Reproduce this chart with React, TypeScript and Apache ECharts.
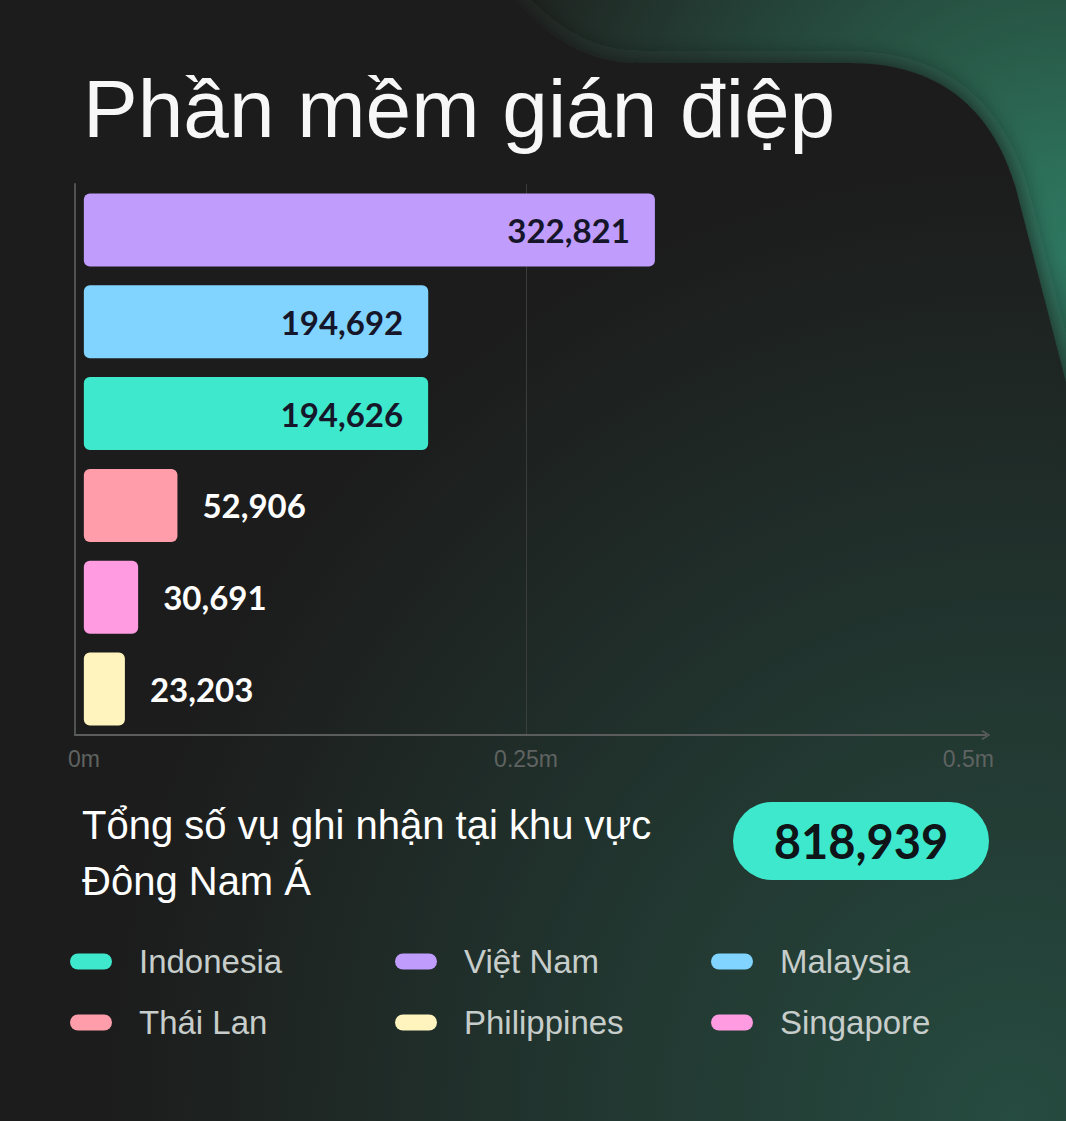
import React, { useEffect, useRef } from 'react';
import * as echarts from 'echarts';

const countries = ['Việt Nam', 'Malaysia', 'Indonesia', 'Thái Lan', 'Singapore', 'Philippines'];
const values = [322821, 194692, 194626, 52906, 30691, 23203];
const barColors = ['#c09cfd', '#80d4ff', '#3ee8cc', '#ff9eaa', '#ff9be0', '#fff3be'];
const legendRow1 = ['Indonesia', 'Việt Nam', 'Malaysia'];
const legendRow2 = ['Thái Lan', 'Philippines', 'Singapore'];
const xTickValues = [0, 250000, 500000];
const xMin = -5000;
const xMax = 510000;
const titleText = 'Phần mềm gián điệp';
const subtitleLines = ['Tổng số vụ ghi nhận tại khu vực', 'Đông Nam Á'];

const W = 1066;
const H = 1121;
const fmt = (v: number) => v.toLocaleString('en-US');
const panelPath =
  'M-80,-120 L380,-120 C470,-120 500,63 640,63 L850,63 C950,63 995,120 1015,185 L1125,610 L1125,1240 L-80,1240 Z';
const pillIcon = 'path://M8,0 L34,0 A8,8 0 0 1 34,16 L8,16 A8,8 0 0 1 8,0 Z';
const chevron = 'path://M0,10 L6,0 L12,10 L10.4,11 L6,3.2 L1.6,11 Z';

let registered = false;

export default function App() {
  const ref = useRef<HTMLDivElement>(null);
  useEffect(() => {
    if (!ref.current) return;
    if (!registered) {
      echarts.graphic.registerShape('panel', echarts.graphic.extendPath(panelPath, {}));
      registered = true;
    }
    const chart = echarts.init(ref.current, null, { renderer: 'svg' });
    const total = values.reduce((a, b) => a + b, 0);

    const legendBase = {
      orient: 'horizontal',
      itemWidth: 42,
      itemHeight: 16,
      icon: pillIcon,
      padding: 0,
      itemGap: 0,
      selectedMode: false,
      textStyle: {
        color: '#c6cdca',
        fontSize: 33,
        fontFamily: 'Liberation Sans, Arial, sans-serif',
        padding: [0, 0, 0, 22],
      },
    };
    const colLeft = [70, 395, 711];

    const series = countries.map((name, i) => {
      const inside = values[i] > 100000;
      return {
        type: 'bar',
        name,
        stack: 'total',
        barWidth: 73,
        data: countries.map((_, j) => (j === i ? values[i] : '-')),
        itemStyle: { color: barColors[i], borderRadius: 6 },
        label: {
          show: true,
          position: inside ? 'insideRight' : 'right',
          distance: 25,
          color: inside ? '#16162a' : '#ffffff',
          fontFamily: 'Lato, sans-serif',
          fontWeight: 'bold',
          fontSize: 33,
          formatter: (p: any) => fmt(p.value),
        },
      };
    });

    const option: any = {
      animation: false,
      backgroundColor: '#1e1f1e',
      grid: { left: 75, right: W - 986, top: 184, height: 551, outerBoundsMode: 'none', containLabel: false },
      xAxis: {
        type: 'value',
        min: xMin,
        max: xMax,
        axisLine: {
          show: true,
          onZero: false,
          lineStyle: { color: '#5a5d5b', width: 2 },
          symbol: ['none', chevron],
          symbolSize: [14, 9],
        },
        axisTick: { show: false, customValues: xTickValues },
        axisLabel: {
          customValues: xTickValues,
          color: '#5f6361',
          fontSize: 23,
          fontFamily: 'Liberation Sans, Arial, sans-serif',
          margin: 12,
          formatter: (v: number) => v / 1000000 + 'm',
        },
        splitLine: { show: true, showMinLine: false, showMaxLine: false, lineStyle: { color: '#3b3d3b', width: 1 } },
      },
      yAxis: {
        type: 'category',
        inverse: true,
        data: countries,
        axisLine: { show: true, onZero: false, lineStyle: { color: '#505250', width: 2 } },
        axisTick: { show: false },
        axisLabel: { show: false },
        splitLine: { show: false },
      },
      legend: [
        ...legendRow1.map((n, i) => ({ ...legendBase, data: [n], left: colLeft[i], top: 945 })),
        ...legendRow2.map((n, i) => ({ ...legendBase, data: [n], left: colLeft[i], top: 1006 })),
      ],
      graphic: {
        elements: [
          {
            type: 'rect',
            z: -10,
            shape: { x: 0, y: 0, width: W, height: H },
            style: {
              fill: new echarts.graphic.RadialGradient(1, 0.23, 0.55, [
                { offset: 0, color: '#2f7d64' },
                { offset: 0.35, color: '#295c4a' },
                { offset: 0.7, color: '#243e35' },
                { offset: 1, color: '#1f2421' },
              ]),
            },
          },
          {
            type: 'panel',
            z: -9,
            x: 0,
            y: 0,
            style: { fill: '#1e1f1e', shadowBlur: 26, shadowColor: 'rgba(30,31,30,0.9)' },
          },
          {
            type: 'rect',
            z: -8,
            shape: { x: 0, y: 0, width: W, height: H },
            style: {
              fill: new echarts.graphic.RadialGradient(0.95, 1.0, 0.85, [
                { offset: 0, color: 'rgba(39,78,66,0.95)' },
                { offset: 0.45, color: 'rgba(37,70,60,0.65)' },
                { offset: 1, color: 'rgba(37,70,60,0)' },
              ]),
            },
          },
          {
            type: 'text',
            x: 83,
            y: 108,
            style: {
              text: titleText,
              fill: '#f7f7f7',
              fontSize: 82,
              fontFamily: 'Liberation Sans, Arial, sans-serif',
              align: 'left',
              verticalAlign: 'middle',
            },
          },
          ...subtitleLines.map((t, i) => ({
            type: 'text',
            x: 82,
            y: 825 + i * 56,
            style: {
              text: t,
              fill: '#ffffff',
              fontSize: 40,
              fontFamily: 'Liberation Sans, Arial, sans-serif',
              align: 'left',
              verticalAlign: 'middle',
            },
          })),
          {
            type: 'rect',
            shape: { x: 733, y: 802, width: 256, height: 78, r: 39 },
            style: { fill: '#3ee8cc' },
          },
          {
            type: 'text',
            x: 861,
            y: 841,
            style: {
              text: fmt(total),
              fill: '#0e1417',
              fontSize: 47,
              fontWeight: 'bold',
              fontFamily: 'Lato, sans-serif',
              align: 'center',
              verticalAlign: 'middle',
            },
          },
        ],
      },
      series,
    };
    chart.setOption(option);
    return () => chart.dispose();
  }, []);
  return <div ref={ref} style={{ position: 'fixed', left: 0, top: 0, width: W, height: H }} />;
}
